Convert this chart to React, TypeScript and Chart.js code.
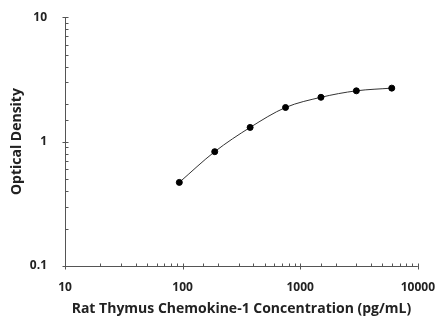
import React, { useEffect, useRef } from "react";
import { Chart, registerables } from "chart.js";

Chart.register(...registerables);

const concentrations = [93.75, 187.5, 375, 750, 1500, 3000, 6000];
const opticalDensity = [0.47, 0.83, 1.3, 1.88, 2.27, 2.56, 2.69];
const xTickLabels = [10, 100, 1000, 10000];
const yTickLabels = [0.1, 1, 10];

const FONT = "'Open Sans', 'Liberation Sans', sans-serif";

const tickMarks = {
  id: "tickMarks",
  afterDraw(chart: any) {
    const ctx = chart.ctx;
    const area = chart.chartArea;
    ctx.save();
    ctx.strokeStyle = "#555";
    ctx.lineWidth = 1;
    const xs = chart.scales.x;
    const ys = chart.scales.y;
    ctx.beginPath();
    ctx.moveTo(Math.round(area.left) + 0.5, area.top);
    ctx.lineTo(Math.round(area.left) + 0.5, Math.round(area.bottom) + 0.5);
    ctx.lineTo(area.right, Math.round(area.bottom) + 0.5);
    ctx.stroke();
    ctx.beginPath();
    xs.ticks.forEach((t: any) => {
      const px = Math.round(xs.getPixelForValue(t.value)) + 0.5;
      const major = xTickLabels.includes(t.value);
      const b = Math.round(area.bottom) + 0.5;
      ctx.moveTo(px, b - 3);
      ctx.lineTo(px, major ? b + 3 : b);
    });
    ys.ticks.forEach((t: any) => {
      const py = Math.round(ys.getPixelForValue(t.value)) + 0.5;
      const major = yTickLabels.some((v) => Math.abs(v - t.value) < 1e-9);
      const l = Math.round(area.left) + 0.5;
      ctx.moveTo(major ? l - 3 : l, py);
      ctx.lineTo(l + 3, py);
    });
    ctx.stroke();
    ctx.restore();
  },
};

function App() {
  const ref = useRef<HTMLCanvasElement>(null);
  useEffect(() => {
    document.body.style.margin = "0";
    const chart = new Chart(ref.current!, {
      type: "line",
      data: {
        datasets: [
          {
            data: concentrations.map((x, i) => ({ x, y: opticalDensity[i] })),
            borderColor: "#333",
            borderWidth: 1,
            pointBackgroundColor: "#000",
            pointBorderColor: "#000",
            pointRadius: 3,
            cubicInterpolationMode: "monotone",
            tension: 0.4,
          },
        ],
      },
      options: {
        animation: false,
        responsive: false,
        layout: { padding: { top: 17, right: 21, left: 0, bottom: 0 } },
        plugins: { legend: { display: false }, tooltip: { enabled: false } },
        scales: {
          x: {
            type: "logarithmic",
            min: 10,
            max: 10000,
            border: { display: false },
            grid: { display: false },
            afterFit(scale: any) {
              scale.height = 51;
            },
            ticks: {
              autoSkip: false,
              maxRotation: 0,
              padding: 6,
              color: "#222",
              font: { family: FONT, size: 12, weight: "bold" },
              callback: (v: any) => (xTickLabels.includes(Number(v)) ? String(v) : ""),
            },
            title: {
              display: true,
              text: "Rat Thymus Chemokine-1 Concentration (pg/mL)",
              color: "#222",
              font: { family: FONT, size: 14, weight: "bold" },
              padding: { top: 3, bottom: 0 },
            },
          },
          y: {
            type: "logarithmic",
            min: 0.1,
            max: 10,
            border: { display: false },
            grid: { display: false },
            afterFit(scale: any) {
              scale.width = 65;
            },
            ticks: {
              autoSkip: false,
              padding: 10,
              color: "#222",
              font: { family: FONT, size: 12, weight: "bold" },
              callback: (v: any) =>
                yTickLabels.some((t) => Math.abs(t - Number(v)) < 1e-9) ? String(v) : "",
            },
            title: {
              display: true,
              text: "Optical Density",
              color: "#222",
              font: { family: FONT, size: 14, weight: "bold" },
              padding: { top: 9, bottom: 0 },
            },
          },
        },
      },
      plugins: [tickMarks],
    } as any);
    return () => chart.destroy();
  }, []);
  return <canvas ref={ref} width={441} height={317} style={{ display: "block" }} />;
}

export default App;
